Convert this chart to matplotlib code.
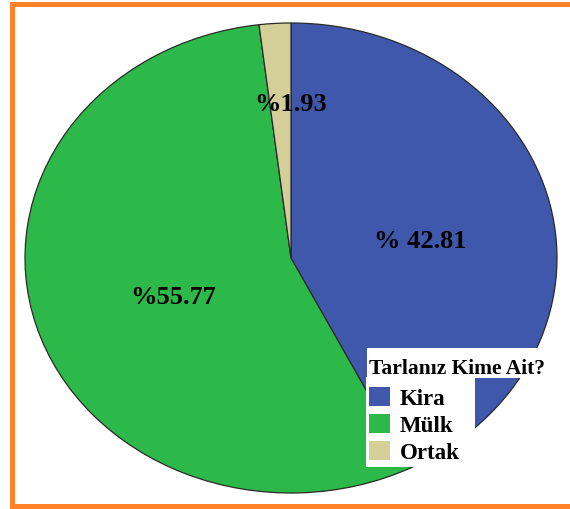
import matplotlib
matplotlib.use("Agg")
import matplotlib.pyplot as plt
from matplotlib.patches import Rectangle
from matplotlib.lines import Line2D

categories = ["Kira", "Mülk", "Ortak"]
values = [42.81, 55.77, 1.93]
labels = ["% 42.81", "%55.77", "%1.93"]
colors = ["#3F58AB", "#2DB84A", "#D4CE98"]
legend_title = "Tarlanız Kime Ait?"

W, H = 570, 509
fig = plt.figure(figsize=(W / 100, H / 100), dpi=100)
fig.patch.set_facecolor("white")

# axes so that data [-1,1] maps to the ellipse extent
x0, x1 = 25, 557
y0, y1 = 23, 493
ax = fig.add_axes([x0 / W, 1 - y1 / H, (x1 - x0) / W, (y1 - y0) / H])
wedges, _ = ax.pie(values, colors=colors, startangle=90, counterclock=False,
                   wedgeprops=dict(edgecolor="#2a2a2a", linewidth=0.9))
ax.set_aspect("auto")
ax.set_xlim(-1, 1)
ax.set_ylim(-1, 1)
ax.axis("off")

serif = ["Liberation Serif", "DejaVu Serif"]
label_pos = [(0.485, 0.072), (-0.444, -0.17), (0.0, 0.655)]
for lab, (lx, ly) in zip(labels, label_pos):
    ax.text(lx, ly, lab, ha="center", va="center", fontsize=19,
            fontweight="bold", family=serif, color="black")

# legend background boxes (title row wide, entries narrower)
fig.patches.append(Rectangle((367 / W, 1 - 378 / H), (550 - 367) / W, 30 / H,
                             transform=fig.transFigure, facecolor="white",
                             edgecolor="none", zorder=3))
fig.patches.append(Rectangle((366 / W, 1 - 467 / H), (475 - 366) / W, (467 - 377) / H,
                             transform=fig.transFigure, facecolor="white",
                             edgecolor="none", zorder=3))

fig.text(369 / W, 1 - 374 / H, legend_title, ha="left", va="baseline",
         family=serif, fontweight="bold", fontsize=15.5, zorder=6)

fs = 16.5
fpx = fs * 100 / 72
leg = fig.legend(wedges, categories, loc="upper left",
                 bbox_to_anchor=(369 / W, 1 - 387 / H),
                 bbox_transform=fig.transFigure, frameon=False,
                 prop=dict(family=serif, weight="bold", size=fs),
                 handlelength=21 / fpx, handleheight=21 / fpx,
                 handletextpad=10 / fpx,
                 labelspacing=0.2, borderpad=0.0, borderaxespad=0.0)
leg.set_zorder(5)
for h in leg.legend_handles:
    h.set_edgecolor("none")

# orange frame
c = "#FF8128"
lw = 5 * 72 / 100
fig.add_artist(Line2D([11.5 / W, 11.5 / W], [1 - 3.5 / H, 1 - 505.5 / H],
                      transform=fig.transFigure, color=c, lw=lw, solid_capstyle="projecting"))
fig.add_artist(Line2D([11.5 / W, 1.02], [1 - 3.5 / H, 1 - 3.5 / H],
                      transform=fig.transFigure, color=c, lw=lw, solid_capstyle="projecting"))
fig.add_artist(Line2D([11.5 / W, 1.02], [1 - 505.5 / H, 1 - 505.5 / H],
                      transform=fig.transFigure, color=c, lw=lw, solid_capstyle="projecting"))

fig.savefig("out.png", dpi=100)
